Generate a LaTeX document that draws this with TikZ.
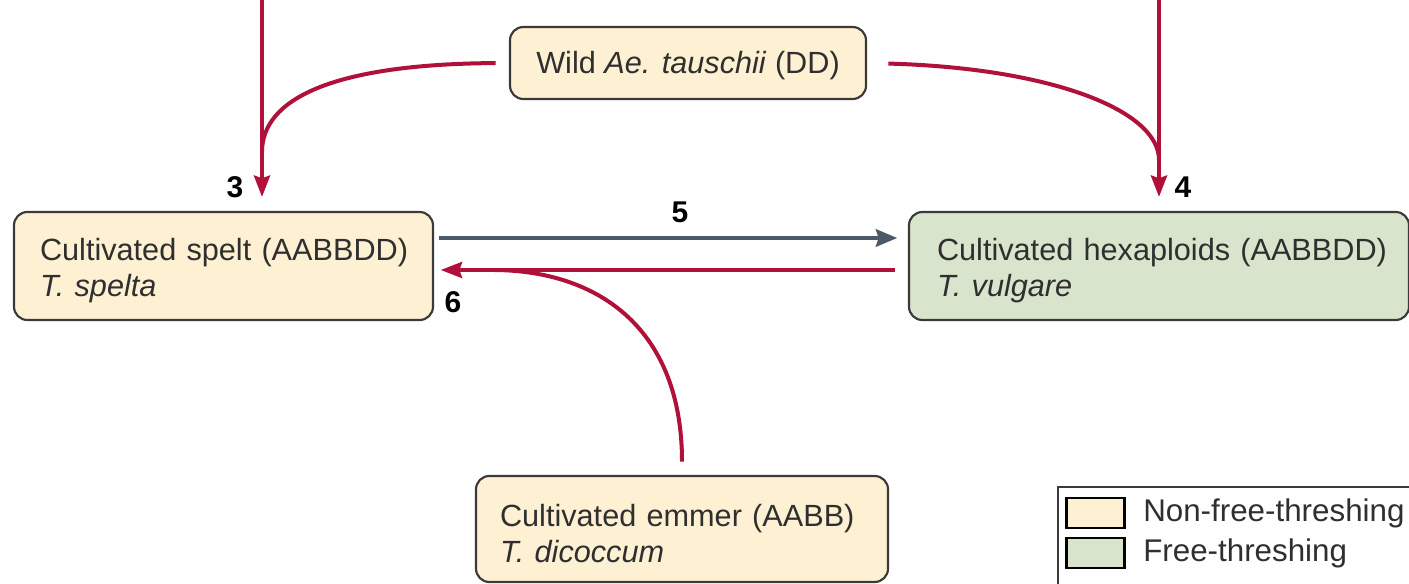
\documentclass[tikz,border=0pt]{standalone}
\usepackage{fontspec}
\setmainfont{Liberation Sans}
\usetikzlibrary{arrows.meta,calc}
\definecolor{cream}{HTML}{FEF0D3}
\definecolor{sage}{HTML}{D8E4CC}
\definecolor{wred}{HTML}{B0103A}
\definecolor{wgray}{HTML}{4D5966}
\definecolor{edge}{HTML}{3A3A3A}
\definecolor{txt}{HTML}{2F2F2F}
\newcommand{\firstline}{\rule{0pt}{23pt}}
\tikzset{
  taxon/.style={draw=edge, line width=1.6pt, rounded corners=10pt, align=left,
    font=\fontsize{23}{27}\selectfont, text=txt},
  redline/.style={draw=wred, line width=3pt},
  redarrow/.style={redline, -{Stealth[length=16pt,width=12pt,inset=2pt]}},
  grayarrow/.style={draw=wgray, line width=3pt, -{Stealth[length=16pt,width=13pt,inset=2pt]}},
  num/.style={font=\fontsize{22.5}{26}\selectfont\bfseries, text=black, inner sep=0pt},
  legsq/.style={draw=black, line width=1.6pt, minimum width=43.5pt, minimum height=22.5pt, inner sep=0pt},
  legtxt/.style={anchor=west, inner sep=0pt, font=\fontsize{23.5}{27}\selectfont, text=txt}
}
\begin{document}
\begin{tikzpicture}[x=0.75pt,y=-0.75pt]
\clip (0,0) rectangle (1409,584);
\fill[white] (0,0) rectangle (1409,584);
% boxes
\node[taxon, fill=cream, minimum width=314.25pt, minimum height=81pt, inner xsep=19.5pt, text width=275.25pt]
  (spelt) at (223.5,266) {\mbox{\firstline Cultivated spelt (AABBDD)}\\\mbox{\textit{T. spelta}}};
\node[taxon, fill=sage, minimum width=375pt, minimum height=81pt, inner xsep=21pt, text width=333pt]
  (hex) at (1159,266) {\mbox{\firstline Cultivated hexaploids (AABBDD)}\\\mbox{\textit{T. vulgare}}};
\node[taxon, fill=cream, minimum width=267pt, minimum height=54pt, align=center]
  (wild) at (688,63) {\rule{0pt}{20pt}Wild \textit{Ae. tauschii} (DD)};
\node[taxon, fill=cream, minimum width=309pt, minimum height=79.5pt, inner xsep=18pt, text width=273pt]
  (emmer) at (682,529) {\mbox{\firstline Cultivated emmer (AABB)}\\\mbox{\textit{T. dicoccum}}};
% free ends
\coordinate (t3) at (262,-5);
\coordinate (t4) at (1159,-5);
\coordinate (j3) at (262,152);
\coordinate (j4) at (1159,160);
\coordinate (j6) at (495,270);
% connectors
\draw[redarrow, shorten >=10.5pt] (t3) -- (t3 |- spelt.north);
\draw[redarrow, shorten >=10.5pt] (t4) -- (t4 |- hex.north);
\draw[redline, shorten <=10pt] (wild.west) .. controls (330,64) and (262,100) .. (j3);
\draw[redline, shorten <=16pt] (wild.east) .. controls (1050,68) and (1159,110) .. (j4);
\draw[grayarrow, shorten <=4pt, shorten >=8pt] ([yshift=21pt]spelt.east) -- ([yshift=21pt]spelt.east -| hex.west);
\draw[redarrow, shorten <=10pt, shorten >=5pt] ([yshift=-3pt]hex.west) -- ([yshift=-3pt]hex.west -| spelt.east);
\draw[redline, shorten <=10pt] (emmer.north) .. controls (682,330) and (600,271) .. (j6);
% numbers
\node[num] (n3) at (235,187) {3};
\node[num] (n4) at (1183,187) {4};
\node[num] (n5) at (680,212) {5};
\node[num] (n6) at (453,302) {6};
% legend
\draw[draw=edge, line width=1.6pt, fill=white] (1058,487) rectangle (1430,610);
\node[legsq, fill=cream] (sq1) at (1095.5,513) {};
\node[legsq, fill=sage] (sq2) at (1095.5,553) {};
\node[legtxt] (lt1) at (1143,513) {Non-free-threshing};
\node[legtxt] (lt2) at (1143,553) {Free-threshing};
\end{tikzpicture}
\end{document}
